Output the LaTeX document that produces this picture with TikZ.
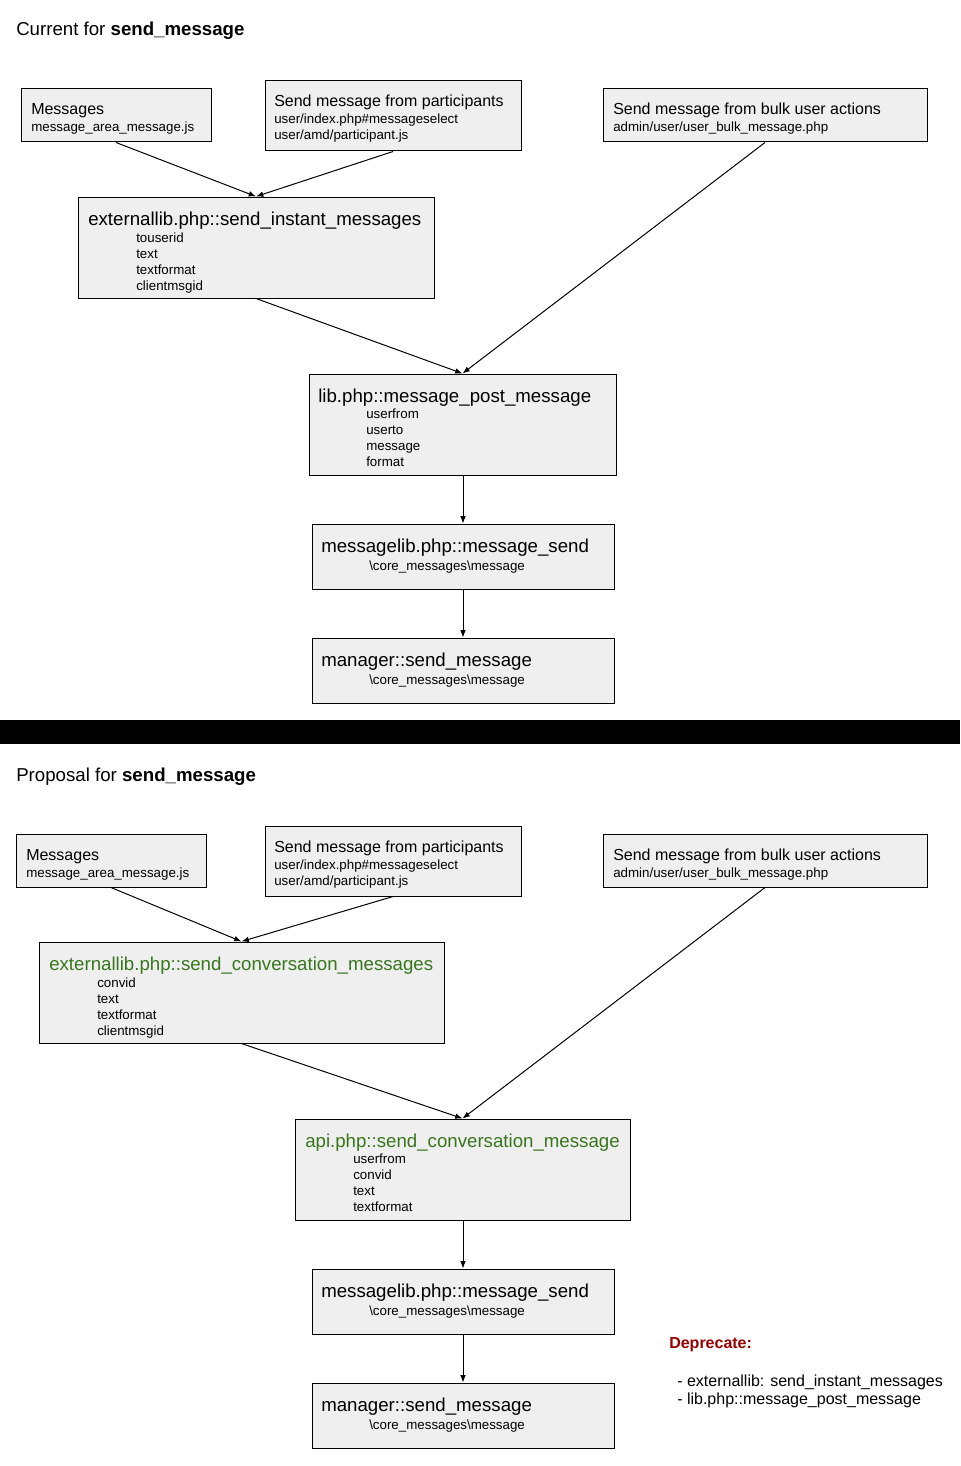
\documentclass[tikz,border=0pt]{standalone}
\usepackage{fontspec}
\setmainfont{Liberation Sans}
\usetikzlibrary{arrows.meta,fit}
\definecolor{boxfill}{HTML}{EFEFEF}
\definecolor{pgreen}{HTML}{38761D}
\definecolor{dred}{HTML}{990000}
\tikzset{
  box/.style={draw=black, fill=boxfill, line width=0.75pt, inner sep=0pt},
  big/.style={anchor=base west, inner sep=0pt, yshift=-0.75pt, font=\fontsize{12}{14}\selectfont},
  head/.style={anchor=base west, inner sep=0pt, yshift=-0.75pt, font=\fontsize{14}{17}\selectfont},
  small/.style={anchor=base west, inner sep=0pt, yshift=-0.75pt, font=\fontsize{10}{12}\selectfont},
  ttl/.style={anchor=base west, inner sep=0pt, yshift=-0.75pt, font=\fontsize{14}{17}\selectfont},
  arr/.style={draw=black, line width=0.75pt, -{Latex[length=5.5pt,width=4.2pt]}},
}
\begin{document}
\begin{tikzpicture}[x=0.75pt,y=-0.75pt]
\useasboundingbox[fill=white] (0,0) rectangle (960,1466);

% ---------------- Current ----------------
\node[ttl] (t1) at (16,35) {Current for \textbf{send\_message}};

\node[box, fit={(21,89) (211,142)}] (m1) {};
\node[big] (m1a) at (31,114) {Messages};
\node[small] (m1b) at (31,131) {message\_area\_message.js};

\node[box, fit={(265,81) (521,151)}] (p1) {};
\node[big] (p1a) at (274,106) {Send message from participants};
\node[small] (p1b) at (274,123) {user/index.php\#messageselect};
\node[small] (p1c) at (274,139) {user/amd/participant.js};

\node[box, fit={(603,89) (927,142)}] (b1) {};
\node[big] (b1a) at (613,114) {Send message from bulk user actions};
\node[small] (b1b) at (613,131) {admin/user/user\_bulk\_message.php};

\node[box, fit={(78,197) (434,298)}] (e1) {};
\node[head] (e1a) at (88,224) {externallib.php::send\_instant\_messages};
\node[small] (e1b) at (136,241.5) {touserid};
\node[small] (e1c) at (136,257.5) {text};
\node[small] (e1d) at (136,273.5) {textformat};
\node[small] (e1e) at (136,289.5) {clientmsgid};

\node[box, fit={(309,374) (616,475)}] (l1) {};
\node[head] (l1a) at (318,401.5) {lib.php::message\_post\_message};
\node[small] (l1b) at (366,417.5) {userfrom};
\node[small] (l1c) at (366,433.5) {userto};
\node[small] (l1d) at (366,449.5) {message};
\node[small] (l1e) at (366,465.5) {format};

\node[box, fit={(312,524) (614,589)}] (s1) {};
\node[head] (s1a) at (321,551.5) {messagelib.php::message\_send};
\node[small] (s1b) at (369,569) {\textbackslash core\_messages\textbackslash message};

\node[box, fit={(312,638) (614,703)}] (g1) {};
\node[head] (g1a) at (321,665.5) {manager::send\_message};
\node[small] (g1b) at (369,683) {\textbackslash core\_messages\textbackslash message};

\draw[arr] (m1.south) -- (e1.north);
\draw[arr] (p1.south) -- (e1.north);
\draw[arr] (b1.south) -- (l1.north);
\draw[arr] (e1.south) -- (l1.north);
\draw[arr] (s1.north |- l1.south) -- (s1.north);
\draw[arr] (s1.south) -- (g1.north);

% separator bar
\fill[black] (0,720) rectangle (960,744);

% ---------------- Proposal ----------------
\node[ttl] (t2) at (16,780) {Proposal for \textbf{send\_message}};

\node[box, fit={(16,834) (206,887)}] (m2) {};
\node[big] (m2a) at (26,859) {Messages};
\node[small] (m2b) at (26,876) {message\_area\_message.js};

\node[box, fit={(265,826) (521,896)}] (p2) {};
\node[big] (p2a) at (274,851) {Send message from participants};
\node[small] (p2b) at (274,868) {user/index.php\#messageselect};
\node[small] (p2c) at (274,884) {user/amd/participant.js};

\node[box, fit={(603,834) (927,887)}] (b2) {};
\node[big] (b2a) at (613,859) {Send message from bulk user actions};
\node[small] (b2b) at (613,876) {admin/user/user\_bulk\_message.php};

\node[box, fit={(39,942) (444,1043)}] (e2) {};
\node[head, text=pgreen] (e2a) at (49,969) {externallib.php::send\_conversation\_messages};
\node[small] (e2b) at (97,986.5) {convid};
\node[small] (e2c) at (97,1002.5) {text};
\node[small] (e2d) at (97,1018.5) {textformat};
\node[small] (e2e) at (97,1034.5) {clientmsgid};

\node[box, fit={(295,1119) (630,1220)}] (a2) {};
\node[head, text=pgreen] (a2a) at (305,1146.5) {api.php::send\_conversation\_message};
\node[small] (a2b) at (353,1162.5) {userfrom};
\node[small] (a2c) at (353,1178.5) {convid};
\node[small] (a2d) at (353,1194.5) {text};
\node[small] (a2e) at (353,1210.5) {textformat};

\node[box, fit={(312,1269) (614,1334)}] (s2) {};
\node[head] (s2a) at (321,1296.5) {messagelib.php::message\_send};
\node[small] (s2b) at (369,1314) {\textbackslash core\_messages\textbackslash message};

\node[box, fit={(312,1383) (614,1448)}] (g2) {};
\node[head] (g2a) at (321,1410.5) {manager::send\_message};
\node[small] (g2b) at (369,1428) {\textbackslash core\_messages\textbackslash message};

\draw[arr] (m2.south) -- (e2.north);
\draw[arr] (p2.south) -- (e2.north);
\draw[arr] (b2.south) -- (a2.north);
\draw[arr] (e2.south) -- (a2.north);
\draw[arr] (s2.north |- a2.south) -- (s2.north);
\draw[arr] (s2.south) -- (g2.north);

% deprecate note
\node[big, text=dred, font=\fontsize{12}{14}\selectfont\bfseries] (d0) at (669,1347) {Deprecate:};
\node[big] (d1) at (677,1385) {- externallib: send\_instant\_messages};
\node[big] (d2) at (677,1403.5) {- lib.php::message\_post\_message};
\end{tikzpicture}
\end{document}
